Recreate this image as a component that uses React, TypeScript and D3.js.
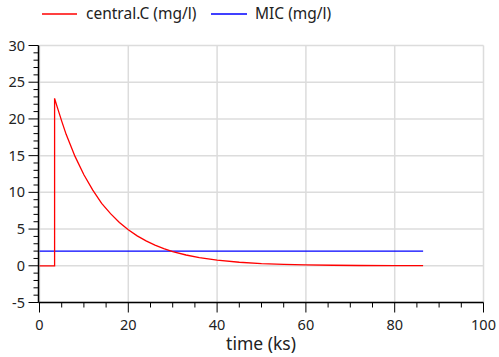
import React from "react";
import * as d3 from "d3";

const timeKs = [0, 3.4, 3.4, 4, 5, 6, 8, 10, 12, 14, 16, 18, 20, 22, 24, 26, 28, 30, 33, 36, 40, 45, 50, 55, 60, 66, 72, 80, 86.4];
const centralC = [0, 0, 22.8, 21.6, 19.7, 17.9, 14.9, 12.4, 10.3, 8.5, 7.1, 5.9, 4.9, 4.07, 3.39, 2.81, 2.34, 1.94, 1.47, 1.11, 0.77, 0.48, 0.3, 0.19, 0.12, 0.07, 0.04, 0.02, 0.01];
const micTime = [0, 86.4];
const micValue = [2, 2];
const xTicks = [0, 20, 40, 60, 80, 100];
const yTicks = [-5, 0, 5, 10, 15, 20, 25, 30];
const seriesNames = ["central.C (mg/l)", "MIC (mg/l)"];
const seriesColors = ["#ff0000", "#0000ff"];

const W = 499, H = 357;
const font = "'Noto Sans', 'Open Sans', sans-serif";

export default function App() {
  const x = d3.scaleLinear().domain([0, 100]).range([39.5, 483.5]);
  const y = d3.scaleLinear().domain([-5, 30]).range([302.5, 45.5]);
  const line = d3.line<[number, number]>().x(d => x(d[0])).y(d => y(d[1]));
  const red: [number, number][] = timeKs.map((t, i) => [t, centralC[i]]);
  const blue: [number, number][] = micTime.map((t, i) => [t, micValue[i]]);
  const xMinor = d3.range(0, 101, 5);
  const yMinor = d3.range(-5, 31, 1);
  return (
    <svg width={W} height={H} style={{ position: "fixed", left: 0, top: 0, background: "#fff" }}>
      {/* grid */}
      {xTicks.map(t => (
        <line key={"gx" + t} x1={x(t)} x2={x(t)} y1={y(30)} y2={y(-5)} stroke="#dcdcdc" strokeWidth={1.5} />
      ))}
      {yTicks.map(t => (
        <line key={"gy" + t} x1={x(0)} x2={x(100)} y1={y(t)} y2={y(t)} stroke="#dcdcdc" strokeWidth={1.5} />
      ))}
      {/* series */}
      <path d={line(blue) || ""} fill="none" stroke={seriesColors[1]} strokeWidth={1.3} />
      <path d={line(red) || ""} fill="none" stroke={seriesColors[0]} strokeWidth={1.3} />
      {/* axes */}
      <line x1={x(0) - 1} x2={x(0) - 1} y1={y(30)} y2={y(-5)} stroke="#000" strokeWidth={1.5} />
      <line x1={x(0) - 1} x2={x(100)} y1={y(-5)} y2={y(-5)} stroke="#000" strokeWidth={1.5} />
      {yMinor.map(t => {
        const major = t % 5 === 0;
        return <line key={"ty" + t} x1={x(0) - 1} x2={x(0) - 1 - (major ? 10 : 5)} y1={y(t)} y2={y(t)} stroke="#000" strokeWidth={1} />;
      })}
      {xMinor.map(t => {
        const major = t % 20 === 0;
        return <line key={"tx" + t} x1={x(t)} x2={x(t)} y1={y(-5)} y2={y(-5) + (major ? 10 : 5)} stroke="#000" strokeWidth={1} />;
      })}
      {yTicks.map(t => (
        <text key={"ly" + t} x={25} y={y(t) + 5} textAnchor="end" fontFamily={font} fontSize={14.5} fill="#222">{t}</text>
      ))}
      {xTicks.map(t => (
        <text key={"lx" + t} x={x(t)} y={330} textAnchor="middle" fontFamily={font} fontSize={14.5} fill="#222">{t}</text>
      ))}
      <text x={261} y={350} textAnchor="middle" fontFamily={font} fontSize={17.5} fill="#222">time (ks)</text>
      {/* legend */}
      <line x1={42} x2={77} y1={14} y2={14} stroke={seriesColors[0]} strokeWidth={1.3} />
      <text x={86} y={19} fontFamily={font} fontSize={15.5} fill="#222">{seriesNames[0]}</text>
      <line x1={211} x2={247} y1={14} y2={14} stroke={seriesColors[1]} strokeWidth={1.3} />
      <text x={255} y={19} fontFamily={font} fontSize={15.5} fill="#222">{seriesNames[1]}</text>
    </svg>
  );
}
